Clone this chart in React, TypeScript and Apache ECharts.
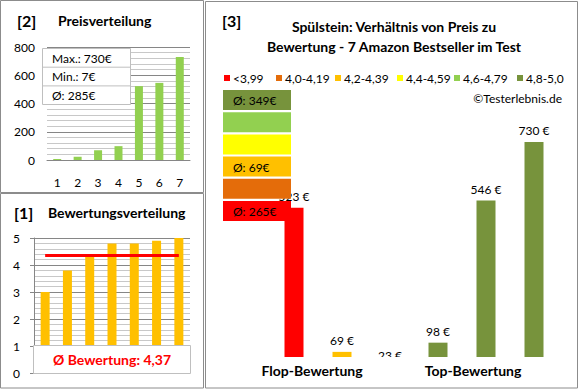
import React, { useEffect, useRef } from "react";
import * as echarts from "echarts";

// ---- data ----
const positions = ["1", "2", "3", "4", "5", "6", "7"];
const pricesSorted = [7, 23, 69, 98, 523, 546, 730];
const priceStats = ["Max.: 730€", "Min.: 7€", "Ø: 285€"];
const ratingsSorted = [3.0, 3.8, 4.3, 4.8, 4.8, 4.9, 5.0];
const avgRating = 4.37;
const avgRatingText = "Ø Bewertung: 4,37";
const productNames = ["P1", "P2", "P3", "P4", "P5", "P6", "P7"];
const productPrices = [7, 523, 69, 23, 98, 546, 730];
const productRatings = [3.0, 3.8, 4.3, 4.8, 4.8, 4.9, 5.0];
const bandLabels = ["<3,99", "4,0-4,19", "4,2-4,39", "4,4-4,59", "4,6-4,79", "4,8-5,0"];
const bandLimits = [4.0, 4.2, 4.4, 4.6, 4.8, 5.01];
const bandColors = ["#FF0000", "#E46C0A", "#FFC000", "#FFFF00", "#92D050", "#77933C"];
const bandAverages = ["Ø: 265€", "", "Ø: 69€", "", "", "Ø: 349€"];
const groupLabels = ["Flop-Bewertung", "Top-Bewertung"];
const titleMain = ["Spülstein: Verhältnis von Preis zu", "Bewertung - 7 Amazon Bestseller im Test"];

// ---- layout ----
const FONT = "Lato";
const legendX = [224, 276, 335, 397, 454, 517];
const groupX = [312, 473];

function bandIndex(r: number) {
  for (let i = 0; i < bandLimits.length; i++) if (r < bandLimits[i]) return i;
  return bandLimits.length - 1;
}

export default function App() {
  const ref = useRef<HTMLDivElement>(null);
  useEffect(() => {
    document.body.style.margin = "0";
    const chart = echarts.init(ref.current!, null, { renderer: "svg" });
    const graphics: any[] = [];
    const border = "#8C8C8C";
    graphics.push(
      { type: "rect", z: 0, shape: { x: 0.5, y: 0.5, width: 203, height: 192 }, style: { fill: "none", stroke: border, lineWidth: 1 } },
      { type: "rect", z: 0, shape: { x: 0.5, y: 193.5, width: 203, height: 194.5 }, style: { fill: "none", stroke: border, lineWidth: 1 } },
      { type: "rect", z: 0, shape: { x: 205.5, y: 1.5, width: 372, height: 386.5 }, style: { fill: "none", stroke: border, lineWidth: 1 } }
    );
    const t = (x: number, y: number, text: string, size: number, bold: boolean, extra: any = {}) => ({
      type: "text",
      z: 60,
      x,
      y,
      style: {
        text,
        fontFamily: FONT,
        fontSize: size,
        fontWeight: bold ? "bold" : "normal",
        fill: "#000",
        verticalAlign: "middle",
        align: "left",
        ...extra,
      },
    });
    // titles
    graphics.push(t(17, 20, "[2]", 16, true));
    graphics.push(t(58, 20, "Preisverteilung", 14, true));
    graphics.push(t(14, 212, "[1]", 16, true));
    graphics.push(t(48, 212, "Bewertungsverteilung", 14, true));
    graphics.push(t(222, 20, "[3]", 16, true));
    graphics.push(t(394, 26, titleMain[0], 14, true, { align: "center" }));
    graphics.push(t(394, 46, titleMain[1], 14, true, { align: "center" }));
    // price stats box
    graphics.push({ type: "rect", z: 50, shape: { x: 42.5, y: 48.5, width: 88, height: 56 }, style: { fill: "#fff", stroke: "#BFBFBF", lineWidth: 1 } });
    priceStats.forEach((s, i) => {
      if (i > 0) graphics.push({ type: "line", z: 51, shape: { x1: 42.5, y1: 48.5 + i * 18.7, x2: 130.5, y2: 48.5 + i * 18.7 }, style: { stroke: "#BFBFBF", lineWidth: 1 } });
      graphics.push(t(52, 58 + i * 18.7, s, 12, false));
    });
    // rating avg box
    graphics.push({ type: "rect", z: 50, shape: { x: 33.5, y: 345.5, width: 157, height: 28 }, style: { fill: "#fff", stroke: "#BFBFBF", lineWidth: 1 } });
    graphics.push(t(112, 359.5, avgRatingText, 14, true, { align: "center", fill: "#FF0000" }));
    // legend
    bandLabels.forEach((lab, i) => {
      graphics.push({ type: "rect", z: 60, shape: { x: legendX[i], y: 75, width: 6, height: 6 }, style: { fill: bandColors[i] } });
      graphics.push(t(legendX[i] + 9, 78.5, lab, 12, false));
    });
    graphics.push(t(562, 98, "©Testerlebnis.de", 12, false, { align: "right" }));
    // band average boxes
    bandColors.forEach((c, i) => {
      const y = 201 - i * 22.2;
      graphics.push({ type: "rect", z: 50, shape: { x: 223, y, width: 68, height: 20 }, style: { fill: c } });
      if (bandAverages[i]) graphics.push(t(233, y + 10.5, bandAverages[i], 12, false));
    });
    // cover under right plot
    graphics.push({ type: "rect", z: 55, shape: { x: 208, y: 357, width: 368, height: 29 }, style: { fill: "#fff" } });
    groupLabels.forEach((g, i) => graphics.push(t(groupX[i], 370, g, 14, true, { align: "center" })));

    const option: any = {
      animation: false,
      textStyle: { fontFamily: FONT },
      grid: [
        { left: 47, top: 47, width: 143, height: 113 },
        { left: 34, top: 238, width: 156, height: 135 },
        { left: 222, top: 88, width: 336, height: 268 },
      ],
      xAxis: [
        {
          type: "category", gridIndex: 0, data: positions,
          axisLine: { lineStyle: { color: "#868686" } }, axisTick: { show: false },
          axisLabel: { margin: 16, fontSize: 12, color: "#000", fontFamily: FONT },
        },
        {
          type: "category", gridIndex: 1, data: positions,
          axisLine: { show: false }, axisTick: { show: false }, axisLabel: { show: false },
        },
        {
          type: "category", gridIndex: 2, data: productNames,
          axisLine: { show: false }, axisTick: { show: false }, axisLabel: { show: false },
        },
      ],
      yAxis: [
        {
          type: "value", gridIndex: 0, min: 0, max: 800, interval: 200,
          axisLine: { show: false },
          axisLabel: { margin: 12, fontSize: 12, color: "#000", fontFamily: FONT },
          splitLine: { lineStyle: { color: "#868686" } },
          minorTick: { show: false, splitNumber: 5 },
          minorSplitLine: { show: true, lineStyle: { color: "#C8C8C8" } },
        },
        {
          type: "value", gridIndex: 1, min: 0, max: 5, interval: 1,
          axisLine: { show: true, lineStyle: { color: "#868686" } },
          axisTick: { show: true, length: 4, lineStyle: { color: "#868686" } },
          axisLabel: { margin: 14, fontSize: 12, color: "#000", fontFamily: FONT },
          splitLine: { lineStyle: { color: "#868686" } },
          minorTick: { show: false, splitNumber: 5 },
          minorSplitLine: { show: true, lineStyle: { color: "#C8C8C8" } },
        },
        {
          type: "value", gridIndex: 2, min: 56, max: 900, show: false, splitLine: { show: false },
        },
      ],
      series: [
        {
          type: "bar", xAxisIndex: 0, yAxisIndex: 0, data: pricesSorted, barWidth: 8,
          itemStyle: { color: "#92D050" },
        },
        {
          type: "bar", xAxisIndex: 1, yAxisIndex: 1, data: ratingsSorted, barWidth: 9,
          itemStyle: { color: "#FFC000" },
          markLine: {
            silent: true, symbol: "none", label: { show: false },
            lineStyle: { color: "#FF0000", width: 3, type: "solid" },
            data: [[{ coord: [positions[0], avgRating] }, { coord: [positions[positions.length - 1], avgRating] }]],
          },
        },
        {
          type: "bar", xAxisIndex: 2, yAxisIndex: 2, barWidth: 19, clip: false,
          data: productPrices.map((v, i) => ({ value: v, itemStyle: { color: bandColors[bandIndex(productRatings[i])] } })),
          label: { show: true, position: "top", distance: 5, formatter: "{c} €", fontSize: 12, color: "#000", fontFamily: FONT },
        },
      ],
      graphic: graphics,
    };
    chart.setOption(option);
    return () => chart.dispose();
  }, []);
  return <div ref={ref} style={{ position: "absolute", left: 0, top: 0, width: 580, height: 390 }} />;
}
